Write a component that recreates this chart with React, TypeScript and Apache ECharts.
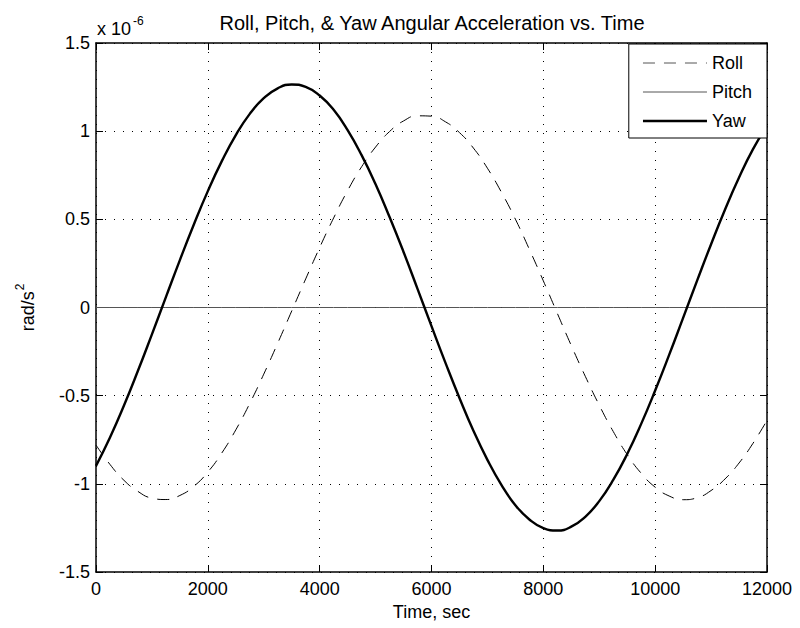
import React, { useEffect, useRef } from "react";
import * as echarts from "echarts";

// Time axis (s)
const time = [
  0, 250, 500, 750, 1000, 1250, 1500, 1750, 2000, 2250, 2500, 2750, 3000, 3250, 3500, 3750,
  4000, 4250, 4500, 4750, 5000, 5250, 5500, 5750, 6000, 6250, 6500, 6750, 7000, 7250, 7500, 7750,
  8000, 8250, 8500, 8750, 9000, 9250, 9500, 9750, 10000, 10250, 10500, 10750, 11000, 11250, 11500, 11750,
  12000,
];

// Angular accelerations, in units of 1e-6 rad/s^2
const roll = [
  -0.78, -0.89, -0.98, -1.043, -1.081, -1.089, -1.066, -1.014, -0.933, -0.825, -0.694, -0.544, -0.378, -0.202, -0.02, 0.162,
  0.34, 0.508, 0.663, 0.798, 0.91, 0.998, 1.058, 1.087, 1.085, 1.053, 0.992, 0.904, 0.79, 0.654, 0.501, 0.33,
  0.151, -0.033, -0.216, -0.39, -0.554, -0.703, -0.834, -0.94, -1.019, -1.069, -1.09, -1.079, -1.038, -0.972, -0.882, -0.77,
  -0.64,
];

const pitch = [
  0, 0, 0, 0, 0, 0, 0, 0, 0, 0, 0, 0, 0, 0, 0, 0,
  0, 0, 0, 0, 0, 0, 0, 0, 0, 0, 0, 0, 0, 0, 0, 0,
  0, 0, 0, 0, 0, 0, 0, 0, 0, 0, 0, 0, 0, 0, 0, 0,
  0,
];

const yaw = [
  -0.898, -0.737, -0.556, -0.359, -0.152, 0.059, 0.269, 0.471, 0.66, 0.83, 0.978, 1.098, 1.187, 1.243, 1.265, 1.251,
  1.202, 1.121, 1.006, 0.864, 0.699, 0.513, 0.315, 0.106, -0.106, -0.314, -0.513, -0.699, -0.864, -1.006, -1.121, -1.202,
  -1.251, -1.265, -1.243, -1.187, -1.098, -0.978, -0.831, -0.66, -0.471, -0.269, -0.059, 0.152, 0.359, 0.556, 0.737, 0.898,
  1.03,
];

const seriesNames = ["Roll", "Pitch", "Yaw"];
const chartTitle = "Roll, Pitch, & Yaw Angular Acceleration vs. Time";
const xName = "Time, sec";

const FONT = "'Liberation Sans', Arial, Helvetica, sans-serif";

function pairs(ys: number[]) {
  return time.map((t, i) => [t, ys[i]]);
}

export default function App() {
  const ref = useRef<HTMLDivElement>(null);

  useEffect(() => {
    if (!ref.current) return;
    const chart = echarts.init(ref.current, null, { renderer: "svg" });

    const axisLine = { show: true, onZero: false, lineStyle: { color: "#000", width: 1.5 } };
    const axisTick = { show: true, inside: true, length: 7, lineStyle: { color: "#000", width: 1 } };
    const grid = { show: true, lineStyle: { color: "#000", width: 1, type: [1, 8] } };
    const label = { color: "#000", fontSize: 18, fontFamily: FONT, formatter: (v: number) => String(v) };

    chart.setOption({
      animation: false,
      backgroundColor: "#fff",
      textStyle: { fontFamily: FONT },
      title: {
        text: chartTitle,
        left: 432,
        top: 13,
        padding: 0,
        textAlign: "center",
        textStyle: { fontSize: 20, fontWeight: "normal", color: "#000", fontFamily: FONT },
      },
      grid: { left: 96, top: 43, right: 33, bottom: 56, containLabel: false },
      legend: {
        data: [
          { name: seriesNames[0], lineStyle: { color: "#555", width: 1, type: [12, 9] } },
          { name: seriesNames[1], lineStyle: { color: "#555", width: 1 } },
          { name: seriesNames[2], lineStyle: { color: "#000", width: 2.4 } },
        ],
        orient: "vertical",
        align: "left",
        right: 33,
        top: 44,
        backgroundColor: "#fff",
        borderColor: "#000",
        borderWidth: 1,
        borderRadius: 0,
        padding: [9, 15, 7, 13],
        itemWidth: 64,
        itemHeight: 20,
        itemGap: 9,
        itemStyle: { opacity: 0, borderWidth: 0 },
        textStyle: { fontSize: 18, color: "#000", fontFamily: FONT, lineHeight: 20 },
      },
      xAxis: [
        {
          type: "value",
          min: 0,
          max: 12000,
          interval: 2000,
          name: xName,
          nameLocation: "middle",
          nameGap: 26,
          nameTextStyle: { color: "#000", fontSize: 18, fontFamily: FONT },
          axisLine,
          axisTick,
          axisLabel: { ...label, margin: 8 },
          splitLine: grid,
        },
        {
          type: "value",
          position: "top",
          min: 0,
          max: 12000,
          interval: 2000,
          axisLine,
          axisTick,
          axisLabel: { show: false },
          splitLine: { show: false },
        },
      ],
      yAxis: [
        {
          type: "value",
          min: -1.5,
          max: 1.5,
          interval: 0.5,
          name: "{a|rad/s}{b|2}",
          nameLocation: "middle",
          nameGap: 64,
          nameRotate: 90,
          nameTextStyle: {
            color: "#000",
            fontFamily: FONT,
            rich: {
              a: { fontSize: 18, lineHeight: 18, padding: [9, 0, 0, 0], color: "#000", fontFamily: FONT },
              b: { fontSize: 12, lineHeight: 12, verticalAlign: "top", padding: [0, 0, 0, 1], color: "#000", fontFamily: FONT },
            },
          },
          axisLine,
          axisTick,
          axisLabel: { ...label, margin: 6 },
          splitLine: grid,
        },
        {
          type: "value",
          position: "right",
          min: -1.5,
          max: 1.5,
          interval: 0.5,
          axisLine,
          axisTick,
          axisLabel: { show: false },
          splitLine: { show: false },
        },
      ],
      graphic: [
        {
          type: "text",
          x: 97,
          y: 15,
          style: {
            text: "{a|x 10}{b|-6}",
            fill: "#000",
            font: `18px ${FONT}`,
            rich: {
              a: { fontSize: 18, lineHeight: 18, padding: [9, 0, 0, 0], fill: "#000", fontFamily: FONT },
              b: { fontSize: 12, lineHeight: 12, verticalAlign: "top", padding: [0, 0, 0, 2], fill: "#000", fontFamily: FONT },
            },
          },
        },
      ],
      series: [
        {
          name: seriesNames[0],
          type: "line",
          data: pairs(roll),
          symbol: "none",
          showSymbol: false,
          smooth: true,
          lineStyle: { color: "#000", width: 1, type: [12, 9] },
          itemStyle: { color: "#000" },
          z: 3,
        },
        {
          name: seriesNames[1],
          type: "line",
          data: pairs(pitch),
          symbol: "none",
          showSymbol: false,
          lineStyle: { color: "#555", width: 1 },
          itemStyle: { color: "#555" },
          z: 3,
        },
        {
          name: seriesNames[2],
          type: "line",
          data: pairs(yaw),
          symbol: "none",
          showSymbol: false,
          smooth: true,
          lineStyle: { color: "#000", width: 2.4 },
          itemStyle: { color: "#000" },
          z: 3,
        },
      ],
    });

    return () => chart.dispose();
  }, []);

  return (
    <div
      ref={ref}
      style={{ position: "absolute", left: 0, top: 0, width: 800, height: 628 }}
    />
  );
}
